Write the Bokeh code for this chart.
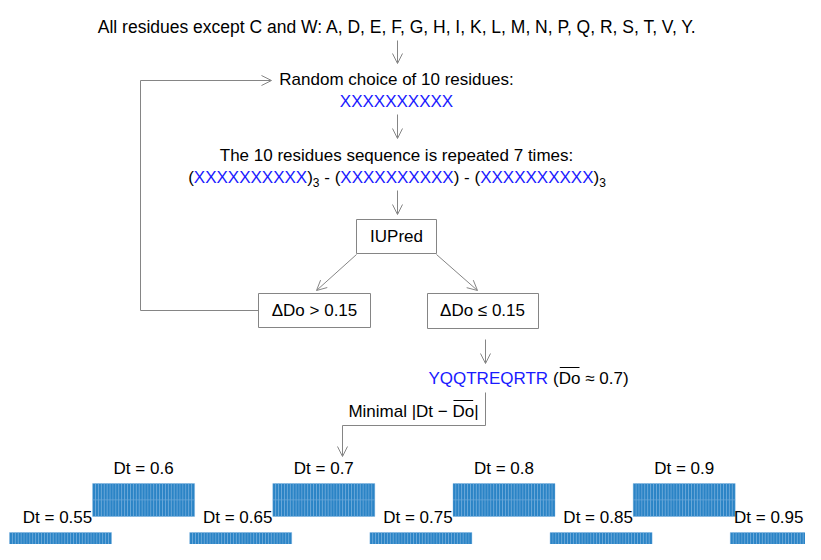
from bokeh.plotting import figure
from bokeh.models import Range1d, Arrow, OpenHead, ColumnDataSource
from bokeh.core.properties import value
from bokeh.embed import file_html
from bokeh.resources import INLINE

# ---------------- data ----------------
allowed_residues = ["A", "D", "E", "F", "G", "H", "I", "K", "L", "M",
                    "N", "P", "Q", "R", "S", "T", "V", "Y"]
excluded_residues = ["C", "W"]
n_random = 10
n_repeats = 7
repeat_blocks = [3, 1, 3]
placeholder = "X" * n_random
predictor = "IUPred"
threshold = 0.15
selected_seq = "YQQTREQRTR"
mean_do = 0.7
dt_values = [0.55, 0.6, 0.65, 0.7, 0.75, 0.8, 0.85, 0.9, 0.95]
seq_length = n_random * n_repeats
grid_rows = 2

# ---------------- style ----------------
FONT = value("Liberation Sans")
FS = 17
GRAY = "#858585"
BLUE = "#1a1aff"
CELL = "#2b84c6"
PW, PH = 805, 544

# Arial / Liberation Sans advance widths (per 1000 em)
W = {" ": 278, "(": 333, ")": 333, "-": 333, ".": 278, "0": 556, "1": 556,
     "3": 556, "5": 556, "7": 556, "X": 667, "Y": 667, "Q": 778, "T": 611,
     "R": 722, "E": 667, "D": 722, "o": 556, "\u2248": 549, "M": 833,
     "i": 222, "n": 556, "m": 833, "a": 556, "l": 222, "|": 260, "t": 278,
     "\u2212": 584, "=": 584}


def tw(s, size=FS):
    return sum(W.get(c, 556) for c in s) * size / 1000.0


p = figure(width=PW, height=PH, x_range=Range1d(0, PW), y_range=Range1d(PH, 0),
           output_backend="svg", toolbar_location=None, min_border=0,
           x_axis_type=None, y_axis_type=None)
p.grid.visible = False
p.outline_line_color = None
p.background_fill_color = "white"

texts = {"center": dict(x=[], y=[], text=[], color=[], size=[]),
         "left": dict(x=[], y=[], text=[], color=[], size=[])}


def put(x, y, s, color="black", size=FS, align="center"):
    d = texts[align]
    d["x"].append(x); d["y"].append(y); d["text"].append(s)
    d["color"].append(color); d["size"].append(f"{size}px")


def runs(cx, y, parts):
    total = sum(tw(t, s) for t, c, s, dy in parts)
    x = cx - total / 2.0
    spans = []
    for t, c, s, dy in parts:
        stripped = t.lstrip(" ")
        lead = tw(t[:len(t) - len(stripped)], s)
        if stripped.strip():
            put(x + lead, y + dy, stripped, c, s, "left")
        spans.append((x + lead, x + tw(t, s)))
        x += tw(t, s)
    return spans


over_x0, over_x1, over_y = [], [], []


def overline(span, y, inset=1.0):
    over_x0.append(span[0] + inset); over_x1.append(span[1] - inset); over_y.append(y)


# ---------------- texts ----------------
title = "All residues except " + " and ".join(excluded_residues) + ": " + ", ".join(allowed_residues) + "."
put(397, 26, title, size=17.5)
put(396, 79, f"Random choice of {n_random} residues:")
put(396, 101, placeholder, BLUE)
put(396, 155, f"The {n_random} residues sequence is repeated {n_repeats} times:")

parts = []
for i, k in enumerate(repeat_blocks):
    if i > 0:
        parts.append((" - ", "black", FS, 0))
    parts.append(("(", "black", FS, 0))
    parts.append((placeholder, BLUE, FS, 0))
    parts.append((")", "black", FS, 0))
    if k > 1:
        parts.append((str(k), "black", 12, 5))
runs(396.5, 177, parts)

put(396, 236, predictor)
put(314, 310, f"\u0394Do > {threshold:g}")
put(482, 310, f"\u0394Do \u2264 {threshold:g}")

sp = runs(528, 378, [(selected_seq, BLUE, FS, 0), (" (", "black", FS, 0),
                     ("Do", "black", FS, 0), (f" \u2248 {mean_do:g})", "black", FS, 0)])
overline(sp[2], 367)

sp = runs(413, 411, [("Minimal |Dt \u2212 ", "black", FS, 0), ("Do", "black", FS, 0),
                     ("|", "black", FS, 0)])
overline(sp[1], 400)

# ---------------- sequence grids ----------------
cols = seq_length // grid_rows
bw, bh = 102.0, 33.0
cx0, cx1, cy0, cy1 = [], [], [], []
for i, d in enumerate(dt_values):
    top = (i % 2 == 1)
    xl = 9 + (d - dt_values[0]) / 0.05 * 90.1 - (7 if top else 0)
    yt = 483 if top else 532
    label = f"Dt = {d:g}"
    lx = min(xl + bw / 2 - (0 if top else 3), PW - 2 - tw(label) / 2)
    put(lx, yt - 15, label)
    for r in range(grid_rows):
        for c in range(cols):
            cx0.append(xl + c * bw / cols); cx1.append(xl + (c + 1) * bw / cols)
            cy0.append(yt + r * bh / grid_rows); cy1.append(yt + (r + 1) * bh / grid_rows)

p.quad(left=cx0, right=cx1, top=cy0, bottom=cy1, fill_color=CELL,
       line_color="#7db4e0", line_width=0.4)

# ---------------- boxes ----------------
p.quad(left=[356, 258, 427], right=[436, 370, 538], top=[219, 293, 293],
       bottom=[253, 327, 328], fill_color="white", line_color=GRAY, line_width=1)

# ---------------- connector lines ----------------
p.multi_line(xs=[[258, 140, 140], [485, 485, 342]],
             ys=[[310, 310, 80], [392, 425, 425]], line_color=GRAY, line_width=1)

arrows = ColumnDataSource(dict(
    x0=[397, 397, 397, 356, 436, 485, 140, 342],
    y0=[40, 114, 190, 254, 254, 339, 80, 425],
    x1=[397, 397, 397, 316, 477, 485, 271, 342],
    y1=[63, 138, 214, 290, 290, 363, 80, 456]))
p.add_layout(Arrow(end=OpenHead(size=10, line_color=GRAY, line_width=1),
                   x_start="x0", y_start="y0", x_end="x1", y_end="y1",
                   line_color=GRAY, line_width=1, source=arrows))

p.segment(x0=over_x0, x1=over_x1, y0=over_y, y1=over_y, line_color="black", line_width=1)

for align, d in texts.items():
    p.text(x="x", y="y", text="text", source=ColumnDataSource(d), text_color="color",
           text_font_size="size", text_font=FONT, text_align=align,
           text_baseline="middle")

open("out.html", "w").write(file_html(p, INLINE))
